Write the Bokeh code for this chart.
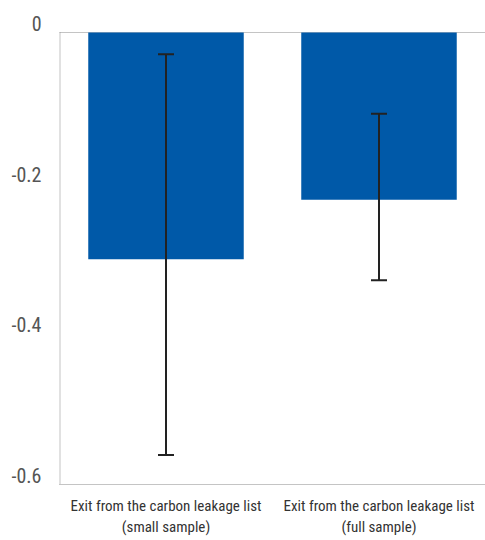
from bokeh.plotting import figure
from bokeh.models import (ColumnDataSource, Range1d, FixedTicker, Whisker, TeeHead,
                          Span, LinearAxis)
from bokeh.embed import file_html
from bokeh.resources import INLINE

categories = ["Exit from the carbon leakage list\n(small sample)",
              "Exit from the carbon leakage list\n(full sample)"]
values = [-0.301, -0.222]
err_upper = [-0.029, -0.108]
err_lower = [-0.561, -0.329]
y_ticks = [0, -0.2, -0.4, -0.6]
y_tick_labels = ["0", "-0.2", "-0.4", "-0.6"]

TICK_FONT = "Roboto Condensed"
CAT_FONT = "Roboto Condensed"

# layout constants (pixels)
FRAME_H = 452
EXTRA_TOP = 16
LABEL_LIFT = 9
y_min, y_max = min(y_ticks), max(y_ticks)
per_px = (y_max - y_min) / FRAME_H
top_val = y_max + EXTRA_TOP * per_px
lift = LABEL_LIFT * per_px

xpos = [i + 0.5 for i in range(len(categories))]
src = ColumnDataSource(dict(x=xpos, val=values, up=err_upper, lo=err_lower))

p = figure(x_range=Range1d(0, len(categories)), y_range=Range1d(y_min, top_val),
           width=485, height=540, output_backend="svg", toolbar_location=None,
           y_axis_location=None,
           min_border_left=59, min_border_right=0, min_border_top=EXTRA_TOP,
           min_border_bottom=56)
p.outline_line_color = None
p.xgrid.grid_line_color = None
p.ygrid.grid_line_color = None
p.background_fill_color = "white"

p.vbar(x="x", top=0, bottom="val", width=0.73, source=src,
       fill_color="#0059A8", line_color=None)

w = Whisker(base="x", upper="up", lower="lo", source=src, level="overlay",
            line_color="#222222", line_width=2,
            upper_head=TeeHead(size=16, line_color="#222222", line_width=2),
            lower_head=TeeHead(size=16, line_color="#222222", line_width=2))
p.add_layout(w)

# dotted frame lines: zero line and left edge
p.add_layout(Span(location=0, dimension="width", line_color="#888888",
                  line_dash="1 1", line_width=1, level="underlay"))
p.segment(x0=[0], y0=[y_max], x1=[0], y1=[y_min], line_color="#888888",
          line_dash="1 1", line_width=2, level="underlay")

# y labels on a slightly shifted range so they sit just above their ticks
p.extra_y_ranges = {"lab": Range1d(y_min - lift, top_val - lift)}
yax = LinearAxis(y_range_name="lab", ticker=FixedTicker(ticks=y_ticks))
yax.major_label_overrides = {t: l for t, l in zip(y_ticks, y_tick_labels)}
yax.major_tick_line_color = None
yax.minor_tick_line_color = None
yax.axis_line_color = None
yax.major_label_text_font = TICK_FONT
yax.major_label_text_font_size = "20px"
yax.major_label_text_color = "#555555"
yax.major_label_standoff = 12
p.add_layout(yax, "left")

p.xaxis.ticker = FixedTicker(ticks=xpos)
p.xaxis.major_label_overrides = {x: c for x, c in zip(xpos, categories)}
p.xaxis.major_tick_line_color = None
p.xaxis.minor_tick_line_color = None
p.xaxis.axis_line_color = "#888888"
p.xaxis.axis_line_dash = "1 1"
p.xaxis.major_label_text_font = CAT_FONT
p.xaxis.major_label_text_font_size = "15px"
p.xaxis.major_label_text_color = "#333333"
p.xaxis.major_label_standoff = 6

open("out.html", "w").write(file_html(p, INLINE))
